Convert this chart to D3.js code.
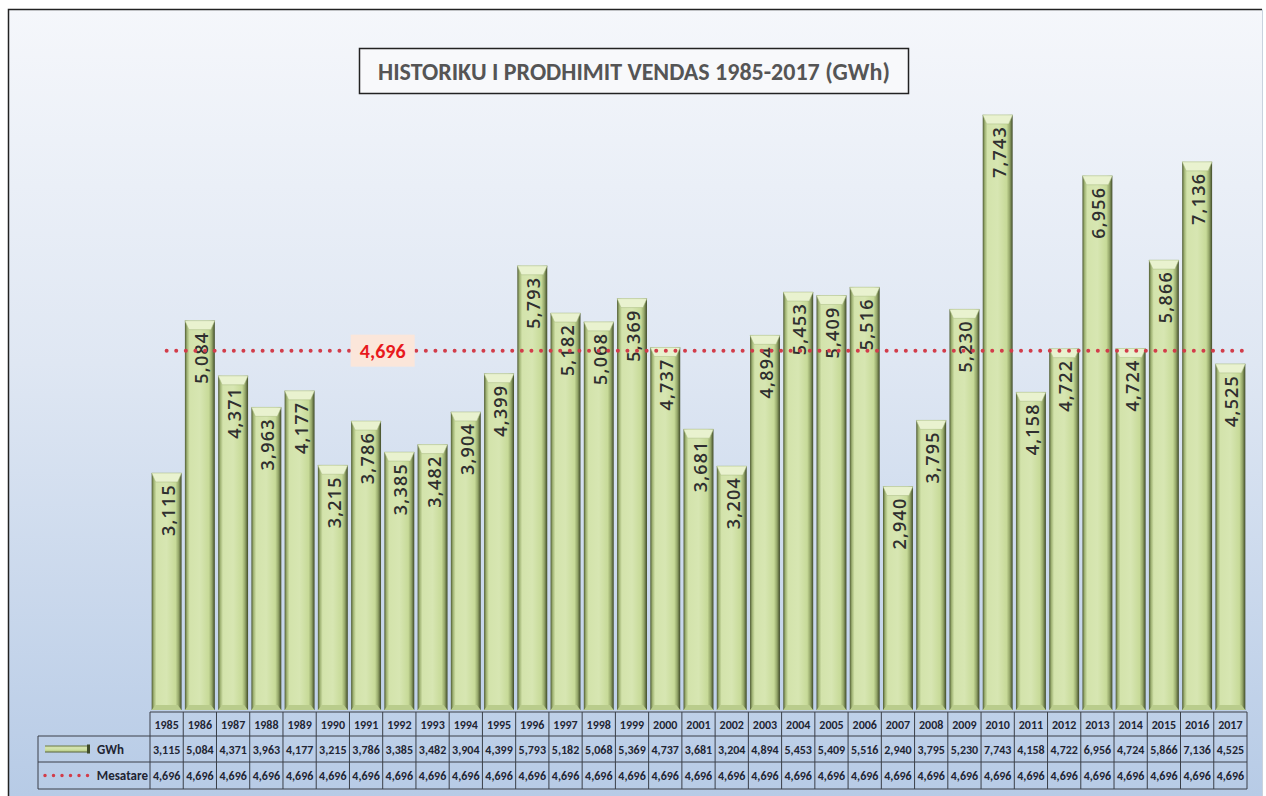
<!DOCTYPE html>
<html>
<head>
<meta charset="utf-8">
<script src="https://cdn.jsdelivr.net/npm/d3@7"></script>
<style>
  body { margin: 0; background: #fff; }
  svg { display: block; }
</style>
</head>
<body>
<div id="chart"></div>
<script>
// data
var years = ['1985','1986','1987','1988','1989','1990','1991','1992','1993','1994','1995','1996','1997','1998','1999','2000',
  '2001','2002','2003','2004','2005','2006','2007','2008','2009','2010','2011','2012','2013','2014','2015','2016','2017'];
var gwh = [3115, 5084, 4371, 3963, 4177, 3215, 3786, 3385, 3482, 3904, 4399, 5793, 5182, 5068, 5369, 4737,
  3681, 3204, 4894, 5453, 5409, 5516, 2940, 3795, 5230, 7743, 4158, 4722, 6956, 4724, 5866, 7136, 4525];
var mesatare = 4696;
var seriesNames = ['GWh', 'Mesatare'];
var title = 'HISTORIKU I PRODHIMIT VENDAS 1985-2017 (GWh)';

var W = 1266, H = 796;
var fmt = d3.format(',');
var font = 'Carlito, Lato, sans-serif';

var svg = d3.select('#chart').append('svg')
  .attr('width', W)
  .attr('height', H);

var defs = svg.append('defs');

var bg = defs.append('linearGradient').attr('id', 'bg')
  .attr('x1', 0).attr('y1', 0).attr('x2', 0).attr('y2', 1);
bg.append('stop').attr('offset', '0%').attr('stop-color', '#f5f7fb');
bg.append('stop').attr('offset', '45%').attr('stop-color', '#dfe7f3');
bg.append('stop').attr('offset', '100%').attr('stop-color', '#b7cbe6');

var barGrad = defs.append('linearGradient').attr('id', 'barGrad')
  .attr('x1', 0).attr('y1', 0).attr('x2', 1).attr('y2', 0);
[['0%', '#4e5a32'], ['7%', '#9fb273'], ['16%', '#d3e3ab'], ['50%', '#d7e6b2'], ['80%', '#c7da98'], ['90%', '#95a76a'], ['100%', '#3f4a28']]
  .forEach(function (s) { barGrad.append('stop').attr('offset', s[0]).attr('stop-color', s[1]); });

var legGrad = defs.append('linearGradient').attr('id', 'legGrad')
  .attr('x1', 0).attr('y1', 0).attr('x2', 0).attr('y2', 1);
[['0%', '#6c7a45'], ['30%', '#d7e6b2'], ['70%', '#c7da98'], ['100%', '#56623a']]
  .forEach(function (s) { legGrad.append('stop').attr('offset', s[0]).attr('stop-color', s[1]); });

// background + frame
svg.append('rect')
  .attr('x', 8).attr('y', 9).attr('width', 1254).attr('height', 787)
  .attr('fill', 'url(#bg)');
svg.append('path')
  .attr('d', 'M8.5,796 V9.5 H1262')
  .attr('fill', 'none').attr('stroke', '#222').attr('stroke-width', 1.5);
svg.append('path')
  .attr('d', 'M1262.5,9.5 V796')
  .attr('fill', 'none').attr('stroke', '#c9d2de').attr('stroke-width', 1);

// scales
var x = d3.scaleBand().domain(years).range([150, 1247]).paddingInner(0.1).paddingOuter(0.05);
var step = x.step();
var y = d3.scaleLinear().domain([0, 8000]).range([714, 95]);
var base = 710;

// title
var tg = svg.append('g');
tg.append('rect')
  .attr('x', 359.5).attr('y', 48.5).attr('width', 549).attr('height', 45)
  .attr('fill', '#f8f9fb').attr('stroke', '#222').attr('stroke-width', 1.5);
var tt = tg.append('text')
  .attr('x', 634).attr('y', 80)
  .attr('text-anchor', 'middle')
  .attr('font-family', font).attr('font-weight', 700).attr('font-size', 24)
  .attr('fill', '#555')
  .text(title);
var tl = tt.node().getComputedTextLength();
if (tl > 534) tt.attr('font-size', 24 * 534 / tl);

// bars
var bars = svg.append('g').selectAll('g.bar')
  .data(years)
  .enter().append('g').attr('class', 'bar');

bars.append('rect')
  .attr('x', function (d) { return x(d); })
  .attr('y', function (d, i) { return y(gwh[i]); })
  .attr('width', x.bandwidth())
  .attr('height', function (d, i) { return base - y(gwh[i]); })
  .attr('fill', 'url(#barGrad)');

// top bevel
bars.append('path')
  .attr('d', function (d, i) {
    var x0 = x(d), x1 = x(d) + x.bandwidth(), t = y(gwh[i]);
    return 'M' + x0 + ',' + t + 'H' + x1 + 'L' + (x1 - 4) + ',' + (t + 9) + 'H' + (x0 + 4) + 'Z';
  })
  .attr('fill', '#e9f2cf').attr('stroke', '#a8ba80').attr('stroke-width', 0.5);

// bottom bevel
bars.append('path')
  .attr('d', function (d) {
    var x0 = x(d), x1 = x(d) + x.bandwidth();
    return 'M' + (x0 + 4) + ',' + (base - 5) + 'H' + (x1 - 4) + 'L' + x1 + ',' + base + 'H' + x0 + 'Z';
  })
  .attr('fill', '#b9cc8c');

bars.append('text')
  .attr('transform', function (d, i) {
    return 'translate(' + (x(d) + x.bandwidth() / 2 + 1) + ',' + (y(gwh[i]) + 11) + ') rotate(-90)';
  })
  .attr('text-anchor', 'end')
  .attr('dominant-baseline', 'central')
  .attr('font-family', 'Open Sans, sans-serif').attr('font-weight', 600).attr('font-size', 18)
  .attr('letter-spacing', 1.2)
  .attr('fill', '#2f2f2f')
  .text(function (d, i) { return fmt(gwh[i]); });

// average line
var ym = y(mesatare);
svg.append('line')
  .attr('x1', x(years[0]) + x.bandwidth() / 2).attr('x2', x(years[years.length - 1]) + x.bandwidth() - 2)
  .attr('y1', ym).attr('y2', ym)
  .attr('stroke', '#d23c4a').attr('stroke-width', 4)
  .attr('stroke-linecap', 'round').attr('stroke-dasharray', '0 9.6');

var lx = x('1992') - step * 0.05;
svg.append('rect')
  .attr('x', lx - 32).attr('y', ym - 16).attr('width', 64).attr('height', 32)
  .attr('fill', '#fbe6da');
svg.append('text')
  .attr('x', lx).attr('y', ym + 7)
  .attr('text-anchor', 'middle')
  .attr('font-family', font).attr('font-weight', 700).attr('font-size', 20)
  .attr('fill', '#e8191c')
  .text(fmt(mesatare));

// data table
var rowY = [712, 736, 762, 789];
var colX = years.map(function (d) { return x(d) - step * 0.05; });
var tableL = 38, tableR = colX[0] + step * years.length;
var tab = svg.append('g').attr('stroke', '#3a3f48').attr('stroke-width', 1).attr('fill', 'none');

tab.append('line').attr('x1', colX[0]).attr('x2', tableR).attr('y1', rowY[0]).attr('y2', rowY[0]);
tab.append('line').attr('x1', tableL).attr('x2', tableR).attr('y1', rowY[1]).attr('y2', rowY[1]);
tab.append('line').attr('x1', tableL).attr('x2', tableR).attr('y1', rowY[2]).attr('y2', rowY[2]);
tab.append('line').attr('x1', tableL).attr('x2', tableR).attr('y1', rowY[3]).attr('y2', rowY[3]);
tab.append('line').attr('x1', tableL).attr('x2', tableL).attr('y1', rowY[1]).attr('y2', rowY[3]);
tab.selectAll('line.col')
  .data(colX.concat([tableR]))
  .enter().append('line').attr('class', 'col')
  .attr('x1', function (d) { return d; }).attr('x2', function (d) { return d; })
  .attr('y1', rowY[0]).attr('y2', rowY[3]);

var cellText = svg.append('g')
  .attr('font-family', font).attr('font-weight', 700).attr('font-size', 12)
  .attr('fill', '#1f2533').attr('text-anchor', 'middle');

cellText.selectAll('text.yr').data(years).enter().append('text').attr('class', 'yr')
  .attr('x', function (d) { return x(d) + x.bandwidth() / 2; })
  .attr('y', (rowY[0] + rowY[1]) / 2 + 4.5)
  .text(function (d) { return d; });

cellText.selectAll('text.val').data(years).enter().append('text').attr('class', 'val')
  .attr('x', function (d) { return x(d) + x.bandwidth() / 2; })
  .attr('y', (rowY[1] + rowY[2]) / 2 + 4.5)
  .text(function (d, i) { return fmt(gwh[i]); });

cellText.selectAll('text.avg').data(years).enter().append('text').attr('class', 'avg')
  .attr('x', function (d) { return x(d) + x.bandwidth() / 2; })
  .attr('y', (rowY[2] + rowY[3]) / 2 + 4.5)
  .text(function () { return fmt(mesatare); });

// legend keys in the table
var r1 = (rowY[1] + rowY[2]) / 2, r2 = (rowY[2] + rowY[3]) / 2;
svg.append('rect')
  .attr('x', 45).attr('y', r1 - 3.5).attr('width', 44).attr('height', 7)
  .attr('fill', 'url(#legGrad)');
svg.append('rect')
  .attr('x', 87).attr('y', r1 - 4.5).attr('width', 3).attr('height', 9)
  .attr('fill', '#3f4a28');
svg.append('line')
  .attr('x1', 45).attr('x2', 92).attr('y1', r2).attr('y2', r2)
  .attr('stroke', '#d23c4a').attr('stroke-width', 3.5)
  .attr('stroke-linecap', 'round').attr('stroke-dasharray', '0 8.5');

svg.append('text')
  .attr('x', 97).attr('y', r1 + 4.5)
  .attr('font-family', font).attr('font-weight', 700).attr('font-size', 13)
  .attr('fill', '#1f2533')
  .text(seriesNames[0]);
svg.append('text')
  .attr('x', 148).attr('y', r2 + 4.5)
  .attr('text-anchor', 'end')
  .attr('font-family', font).attr('font-weight', 700).attr('font-size', 13)
  .attr('fill', '#1f2533')
  .text(seriesNames[1]);
</script>
</body>
</html>
